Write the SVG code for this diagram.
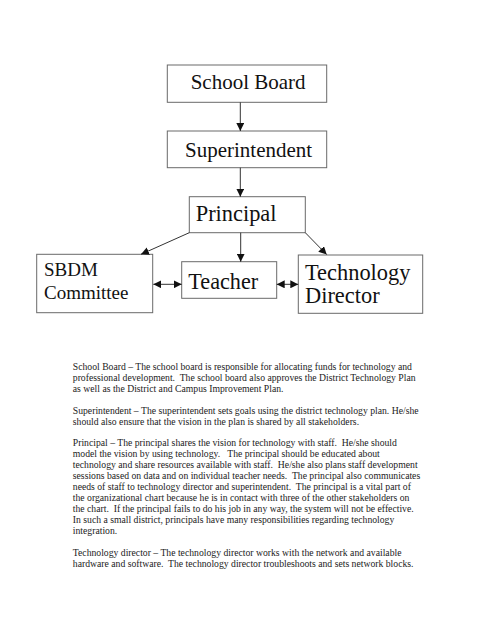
<svg xmlns="http://www.w3.org/2000/svg" width="495" height="640" viewBox="0 0 495 640">
<defs>
<style>
.box{fill:#fff;stroke:#6a6a6a;stroke-width:1}
.lbl{fill:#111}
.con{stroke:#333;stroke-width:1;fill:none}
.para{font-size:9.7px;fill:#222;white-space:pre}
</style>
<marker id="ah" markerWidth="8" markerHeight="8" refX="8" refY="4" orient="auto" markerUnits="userSpaceOnUse">
<path d="M0,0 L8,4 L0,8 Z" fill="#111"/>
</marker>
<marker id="as" markerWidth="8" markerHeight="8" refX="0" refY="4" orient="auto" markerUnits="userSpaceOnUse">
<path d="M8,0 L0,4 L8,8 Z" fill="#111"/>
</marker>
</defs>
<rect width="495" height="640" fill="#fff"/>
<g font-family="'Liberation Serif', 'DejaVu Serif', serif">
<g id="school-board">
<rect class="box" x="167.3" y="65" width="159.4" height="37.3"/>
<text class="lbl" x="190.7" y="89.3" font-size="21">School Board</text>
</g>
<g id="superintendent">
<rect class="box" x="167.3" y="131" width="159.4" height="36.7"/>
<text class="lbl" x="185" y="156.7" font-size="21">Superintendent</text>
</g>
<g id="principal">
<rect class="box" x="189.3" y="196.7" width="116" height="36"/>
<text class="lbl" x="195.7" y="221" font-size="22.4">Principal</text>
</g>
<g id="sbdm">
<rect class="box" x="36.7" y="254.3" width="116" height="58.4"/>
<text class="lbl" x="44" y="276" font-size="19">SBDM</text>
<text class="lbl" x="44" y="299.3" font-size="19">Committee</text>
</g>
<g id="teacher">
<rect class="box" x="181.7" y="261.7" width="95" height="36.6"/>
<text class="lbl" x="188.3" y="288.7" font-size="22.2">Teacher</text>
</g>
<g id="technology-director">
<rect class="box" x="298.3" y="255" width="124.4" height="58.3"/>
<text class="lbl" x="305" y="280" font-size="22.4">Technology</text>
<text class="lbl" x="305" y="303.3" font-size="22.4">Director</text>
</g>
<g id="connectors">
<line class="con" x1="240.3" y1="102.3" x2="240.3" y2="131" marker-end="url(#ah)"/>
<line class="con" x1="240.3" y1="167.7" x2="240.3" y2="196.7" marker-end="url(#ah)"/>
<line class="con" x1="189.3" y1="232.7" x2="141" y2="254.3" marker-end="url(#ah)"/>
<line class="con" x1="240.7" y1="232.7" x2="240.7" y2="261.7" marker-end="url(#ah)"/>
<line class="con" x1="305.3" y1="232.7" x2="326.7" y2="254.6" marker-end="url(#ah)"/>
<line class="con" x1="153.3" y1="284.3" x2="181.7" y2="284.3" marker-start="url(#as)" marker-end="url(#ah)"/>
<line class="con" x1="276.7" y1="284.3" x2="298.3" y2="284.3" marker-start="url(#as)" marker-end="url(#ah)"/>
</g>
<g id="description">
<text class="para" x="72.8" y="369.8">School Board – The school board is responsible for allocating funds for technology and</text>
<text class="para" x="72.8" y="380.75">professional development.  The school board also approves the District Technology Plan</text>
<text class="para" x="72.8" y="391.7">as well as the District and Campus Improvement Plan.</text>
<text class="para" x="72.8" y="413.6">Superintendent – The superintendent sets goals using the district technology plan. He/she</text>
<text class="para" x="72.8" y="424.55">should also ensure that the vision in the plan is shared by all stakeholders.</text>
<text class="para" x="72.8" y="446.45">Principal – The principal shares the vision for technology with staff.  He/she should</text>
<text class="para" x="72.8" y="457.4">model the vision by using technology.   The principal should be educated about</text>
<text class="para" x="72.8" y="468.35">technology and share resources available with staff.  He/she also plans staff development</text>
<text class="para" x="72.8" y="479.3">sessions based on data and on individual teacher needs.  The principal also communicates</text>
<text class="para" x="72.8" y="490.25">needs of staff to technology director and superintendent.  The principal is a vital part of</text>
<text class="para" x="72.8" y="501.2">the organizational chart because he is in contact with three of the other stakeholders on</text>
<text class="para" x="72.8" y="512.15">the chart.  If the principal fails to do his job in any way, the system will not be effective.</text>
<text class="para" x="72.8" y="523.1">In such a small district, principals have many responsibilities regarding technology</text>
<text class="para" x="72.8" y="534.05">integration.</text>
<text class="para" x="72.8" y="555.95">Technology director – The technology director works with the network and available</text>
<text class="para" x="72.8" y="566.9">hardware and software.  The technology director troubleshoots and sets network blocks.</text>
</g>
</g>
</svg>
